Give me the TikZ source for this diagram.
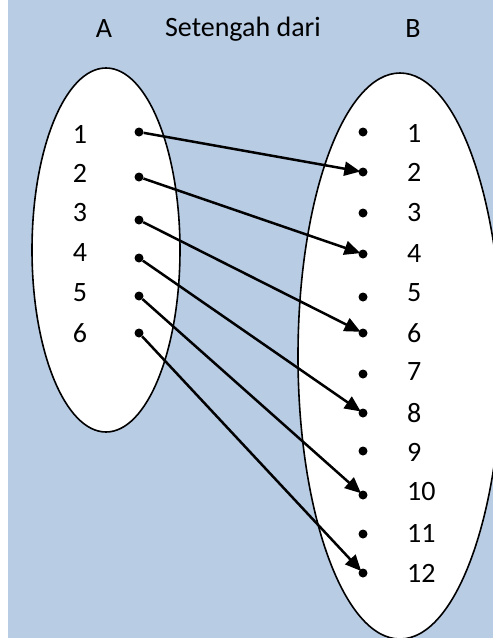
\documentclass[tikz,border=0pt]{standalone}
\usepackage{fontspec}
\setmainfont{Carlito}
\usetikzlibrary{arrows.meta}
\definecolor{bgblue}{HTML}{B8CCE4}
\begin{document}
\begin{tikzpicture}[x=1pt,y=-1pt,
    dot/.style={circle,fill=black,inner sep=0pt,minimum size=9pt},
    maparrow/.style={-{Triangle[length=16pt,width=14pt]},line width=2.5pt,shorten >=-2pt},
    setline/.style={draw=black,fill=white,line width=1.6pt},
    lbl/.style={font=\fontsize{28}{33}\selectfont,inner sep=0pt}]
    \useasboundingbox (0,0) rectangle (493,638);
    \fill[white] (0,0) rectangle (493,638);
    \fill[bgblue] (8,0) rectangle (493,638);
    \begin{scope}
        \clip (8,0) rectangle (493,638);
        \path[setline] (106,250) ellipse [x radius=74, y radius=182];
        \path[setline] (400,356) ellipse [x radius=102, y radius=283];
    \end{scope}
    % headings
    \node[lbl] (titleA) at (104,29) {A};
    \node[lbl] (relation) at (243,29) {Setengah dari};
    \node[lbl] (titleB) at (413,29) {B};
    % set A
    \foreach \n/\yd/\yt in {1/132/134,2/177/173,3/220/213,4/258/253,5/296/293,6/333/333} {
        \node[dot] (a\n) at (139,\yd) {};
        \node[lbl] (na\n) at (80,\yt) {\n};
    }
    % set B
    \foreach \n/\yd/\yt in {1/132/133,2/172/172,3/213/213,4/254/254,5/297/293,6/333/333,
                            7/374/372,8/413/413,9/451/452,10/495/492,11/534/533,12/573/573} {
        \node[dot] (b\n) at (363,\yd) {};
        \node[lbl,anchor=west] (nb\n) at (407,\yt) {\n};
    }
    % mapping
    \foreach \i [evaluate=\i as \j using int(2*\i)] in {1,...,6}
        \draw[maparrow] (a\i) -- (b\j);
\end{tikzpicture}
\end{document}
